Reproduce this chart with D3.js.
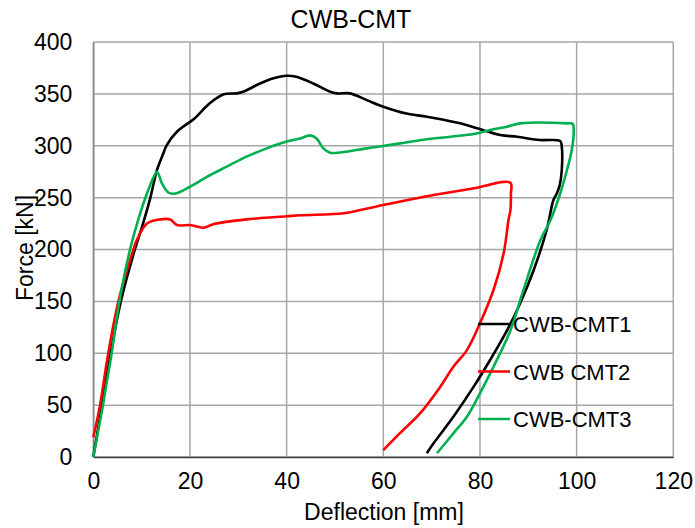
<!DOCTYPE html>
<html>
<head>
<meta charset="utf-8">
<script src="https://cdn.jsdelivr.net/npm/d3@7"></script>
<style>
  body { margin: 0; background: #fff; }
  text { font-family: "Liberation Sans", Arial, sans-serif; fill: #000; }
</style>
</head>
<body>
<div class="graph"></div>
<script>
// series names
const seriesNames = ["CWB-CMT1", "CWB CMT2", "CWB-CMT3"]
const seriesColors = ["#000000", "#ff0000", "#00b050"]

// CWB-CMT1 (deflection mm, force kN)
const cmt1X = [0, 1.8, 3.6, 5.7, 8.6, 10.1, 11.7, 13.2, 14.5, 15.2, 17.3, 20, 21, 24.1, 27, 29.7, 31, 34.5, 37.3, 40, 42, 45.5, 49, 50.4, 53.1, 56.6, 60, 64.8, 69, 72.5, 75.9, 79.4, 84.2, 87.7, 92.4, 96.6, 96.9, 96.9, 96.5, 95.9, 95.2, 93.8, 91.1, 88.3, 85.6, 82.1, 78.7, 74.5, 70.4, 69]
const cmt1Y = [0, 50, 100, 150, 200, 222, 248, 277, 292.7, 300.7, 313.5, 323, 326.5, 341, 349.6, 350.5, 352, 360, 365, 367.5, 366.5, 360, 352, 350.5, 350.5, 344, 337.6, 331, 328, 325, 321.6, 316.8, 310.4, 308.7, 305.5, 304.6, 300, 275, 262, 254, 247.7, 218.8, 180, 148, 122, 93.5, 67.8, 38.8, 13.2, 3.6]

// CWB CMT2
const cmt2X = [0, 1.4, 3.1, 5.2, 8.3, 9, 11.1, 13.8, 15.9, 17.3, 20, 22.8, 24.8, 31.7, 40, 42.8, 49, 51.8, 60, 70.4, 78.7, 86.3, 86.4, 86.3, 85.9, 84.9, 82.8, 80, 77.3, 74.5, 71.8, 67.6, 63.4, 60]
const cmt2Y = [19, 50, 100, 150, 200, 209, 225, 229, 229, 223.6, 223.6, 221, 224.3, 229, 232, 233, 234, 234.9, 242.9, 252.5, 259, 264.4, 254, 238, 228.4, 196.3, 161, 128.9, 103, 87, 67.8, 42, 22.8, 6.7]

// CWB-CMT3
const cmt3X = [0, 2, 3.8, 5.4, 7.6, 9.5, 11.1, 12.5, 13.2, 14.2, 15.6, 17, 20, 23.5, 27.6, 31.7, 35.9, 40, 42.8, 44.8, 46.2, 47.6, 49, 51.8, 56.6, 60, 67, 73.9, 78.7, 82.1, 85.6, 88.3, 98, 99.2, 99.4, 99, 98, 96.6, 94.6, 92.5, 89, 86.3, 82.8, 80, 77.3, 74.5, 71.1]
const cmt3Y = [0, 50, 100, 150, 200, 232, 254, 270, 275, 263.8, 254.7, 254, 260.5, 270, 279.8, 289.5, 297.5, 304, 307, 310, 307, 297.5, 293.3, 294, 297.5, 299.7, 304.9, 308.7, 311.3, 315.2, 318.4, 321.6, 321.6, 321, 313.5, 296, 276.6, 254, 228.4, 209, 161, 122, 87, 61.4, 38.8, 22.8, 3.6]

const xTicks = [0, 20, 40, 60, 80, 100, 120]
const yTicks = [0, 50, 100, 150, 200, 250, 300, 350, 400]

const w = 695
const h = 528
const padL = 93.3, padR = 673.3, padT = 42, padB = 457

const svg = d3.select(".graph")
  .append("svg")
  .attr("width", w)
  .attr("height", h)

const x = d3.scaleLinear().domain([0, 120]).range([padL, padR])
const y = d3.scaleLinear().domain([0, 400]).range([padB, padT])

// grid
svg.append("g")
  .selectAll("line")
  .data(xTicks)
  .enter()
  .append("line")
  .attr("x1", d => x(d)).attr("x2", d => x(d))
  .attr("y1", padT).attr("y2", padB)
  .attr("stroke", "#a6a6a6")
  .attr("stroke-width", 1.5)

svg.append("g")
  .selectAll("line")
  .data(yTicks)
  .enter()
  .append("line")
  .attr("x1", padL).attr("x2", padR)
  .attr("y1", d => y(d)).attr("y2", d => y(d))
  .attr("stroke", "#a6a6a6")
  .attr("stroke-width", 1.5)

// axes (no tick marks, just labels)
const xAxis = svg.append("g")
  .attr("transform", "translate(0," + padB + ")")
  .call(d3.axisBottom(x).tickValues(xTicks).tickSize(0).tickPadding(16))
xAxis.select(".domain").attr("stroke", "#404040").attr("stroke-width", 1.5)
xAxis.selectAll("text").style("font-size", "23px").attr("font-family", null)

const yAxis = svg.append("g")
  .attr("transform", "translate(" + padL + ",0)")
  .call(d3.axisLeft(y).tickValues(yTicks).tickSize(0).tickPadding(21))
yAxis.select(".domain").attr("stroke", "#868686").attr("stroke-width", 1.5)
yAxis.selectAll("text").style("font-size", "23px").attr("font-family", null)

// series
const series = [
  {name: seriesNames[0], color: seriesColors[0], pts: d3.zip(cmt1X, cmt1Y)},
  {name: seriesNames[1], color: seriesColors[1], pts: d3.zip(cmt2X, cmt2Y)},
  {name: seriesNames[2], color: seriesColors[2], pts: d3.zip(cmt3X, cmt3Y)}
]

const line = d3.line()
  .x(d => x(d[0]))
  .y(d => y(d[1]))
  .curve(d3.curveCatmullRom.alpha(0.5))

svg.append("g")
  .selectAll("path")
  .data(series)
  .enter()
  .append("path")
  .attr("d", d => line(d.pts))
  .attr("fill", "none")
  .attr("stroke", d => d.color)
  .attr("stroke-width", 2.6)
  .attr("stroke-linejoin", "round")

// legend
const lg = svg.append("g")
  .selectAll("g")
  .data(series)
  .enter()
  .append("g")
  .attr("transform", (d, i) => "translate(478," + (324 + i * 47.5) + ")")

lg.append("line")
  .attr("x1", 0).attr("x2", 32)
  .attr("stroke", d => d.color)
  .attr("stroke-width", 2.5)

lg.append("text")
  .attr("x", 35)
  .attr("y", 8)
  .style("font-size", "22px")
  .text(d => d.name)

// titles
svg.append("text")
  .attr("x", 351)
  .attr("y", 28)
  .attr("text-anchor", "middle")
  .style("font-size", "25px")
  .text("CWB-CMT")

svg.append("text")
  .attr("x", 384)
  .attr("y", 520)
  .attr("text-anchor", "middle")
  .style("font-size", "23px")
  .text("Deflection [mm]")

svg.append("text")
  .attr("transform", "translate(33,248) rotate(-90)")
  .attr("text-anchor", "middle")
  .style("font-size", "23px")
  .text("Force [kN]")
</script>
</body>
</html>
